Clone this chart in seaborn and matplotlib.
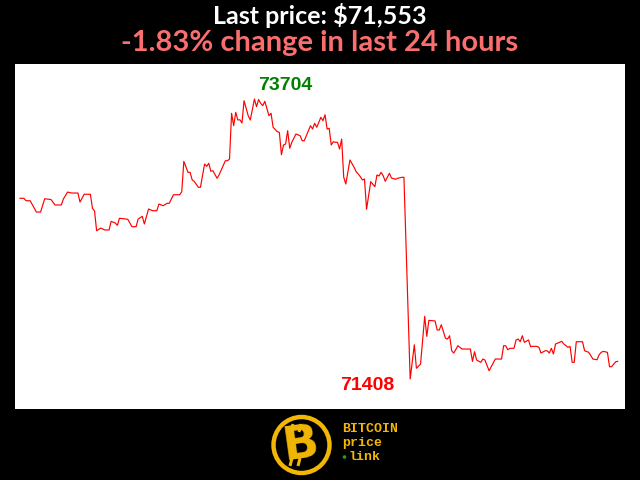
import matplotlib
matplotlib.use("Agg")
import matplotlib.pyplot as plt
import matplotlib.patches as mpatches
import seaborn as sns
import pandas as pd

# ------------------------------------------
# data: minutes since start of the 24h window, BTC price in USD
# ------------------------------------------
minutes = [
    0, 10, 15, 25, 40, 50, 60, 75, 85, 100, 105, 115, 125, 140, 145, 155, 170, 175, 180, 185,
    195, 205, 215, 220, 230, 235, 240, 260, 270, 280, 285, 295, 300, 310, 320, 330, 335, 345, 355, 360,
    370, 385, 390, 395, 405, 410, 415, 420, 430, 435, 445, 450, 455, 460, 465, 475, 480, 495, 500, 505,
    510, 515, 520, 525, 530, 535, 540, 550, 555, 565, 570, 575, 580, 585, 590, 600, 605, 610, 620, 625,
    630, 635, 640, 645, 650, 655, 665, 675, 680, 685, 700, 705, 710, 715, 720, 725, 730, 735, 740, 745,
    750, 755, 760, 765, 770, 775, 780, 785, 790, 795, 805, 810, 815, 820, 825, 830, 835, 845, 855, 860,
    865, 870, 875, 880, 890, 895, 905, 910, 920, 925, 940, 950, 955, 965, 975, 980, 985, 1000, 1005, 1010,
    1015, 1025, 1030, 1035, 1040, 1045, 1055, 1065, 1085, 1090, 1095, 1100, 1110, 1115, 1120, 1130, 1145, 1160, 1165, 1170,
    1175, 1180, 1190, 1195, 1200, 1205, 1210, 1215, 1225, 1230, 1235, 1245, 1250, 1255, 1265, 1270, 1275, 1280, 1285, 1290,
    1305, 1310, 1320, 1325, 1330, 1335, 1340, 1355, 1360, 1370, 1380, 1390, 1395, 1400, 1405, 1415, 1420, 1425, 1435, 1440,
]
prices = [
    72890, 72890, 72870, 72870, 72777, 72777, 72886, 72880, 72835, 72835, 72884, 72941, 72933, 72933, 72859, 72923, 72923, 72808, 72786, 72624,
    72646, 72630, 72630, 72701, 72687, 72668, 72726, 72718, 72657, 72657, 72720, 72742, 72679, 72802, 72788, 72788, 72843, 72829, 72849, 72849,
    72919, 72919, 72944, 73193, 73103, 73103, 73042, 73029, 72980, 72980, 73171, 73152, 73177, 73111, 73116, 73054, 73083, 73198, 73198, 73212,
    73587, 73485, 73595, 73532, 73534, 73507, 73690, 73567, 73532, 73704, 73641, 73700, 73669, 73649, 73685, 73567, 73587, 73472, 73436, 73431,
    73247, 73327, 73335, 73444, 73300, 73349, 73417, 73403, 73362, 73362, 73485, 73458, 73505, 73472, 73513, 73554, 73526, 73575, 73458, 73464,
    73327, 73354, 73349, 73349, 73294, 73376, 73062, 73007, 73103, 73204, 73144, 73108, 73089, 73067, 73040, 73048, 72800, 73026, 72985, 73081,
    73073, 73103, 73075, 73029, 73095, 73056, 73046, 73054, 73062, 73062, 71408, 71689, 71496, 71531, 71922, 71758, 71889, 71884, 71810, 71810,
    71853, 71742, 71736, 71763, 71640, 71621, 71681, 71654, 71654, 71553, 71632, 71564, 71545, 71572, 71564, 71476, 71572, 71572, 71681, 71681,
    71648, 71660, 71660, 71728, 71736, 71714, 71763, 71709, 71728, 71673, 71676, 71676, 71668, 71621, 71640, 71640, 71621, 71660, 71613, 71695,
    71717, 71695, 71668, 71676, 71545, 71545, 71714, 71714, 71640, 71627, 71572, 71566, 71607, 71627, 71635, 71627, 71509, 71509, 71550, 71553,
]

title_line = "Last price: $71,553"
change_line = "-1.83% change in last 24 hours"

df = pd.DataFrame({"minute": minutes, "price": prices})

# ------------------------------------------
# figure
# ------------------------------------------
sns.set_style("white")
plt.rcParams["font.family"] = ["Lato", "DejaVu Sans"]

fig = plt.figure(figsize=(6.4, 4.8), dpi=100, facecolor="black")
ax = fig.add_axes([15 / 640, 71 / 480, 610 / 640, 345 / 480])
ax.set_facecolor("white")

sns.lineplot(data=df, x="minute", y="price", color="#ff0000", linewidth=0.85, ax=ax)

span_x = df["minute"].max() - df["minute"].min()
span_y = df["price"].max() - df["price"].min()
ax.set_xlim(df["minute"].min() - 0.008 * span_x, df["minute"].max() + 0.012 * span_x)
ax.set_ylim(df["price"].min() - 0.107 * span_y, df["price"].max() + 0.125 * span_y)
ax.set_xticks([])
ax.set_yticks([])
ax.set_xlabel("")
ax.set_ylabel("")
for s in ax.spines.values():
    s.set_visible(False)

# high / low labels
hi = df.loc[df["price"].idxmax()]
lo = df.loc[df["price"].idxmin()]
ax.annotate(f"{int(hi['price'])}", (hi["minute"], hi["price"]), xytext=(3, 9.5),
            textcoords="offset points", ha="left", va="center", color="#008000",
            fontsize=14, fontweight="bold", family="Liberation Sans")
ax.annotate(f"{int(lo['price'])}", (lo["minute"], lo["price"]), xytext=(-11.5, -5),
            textcoords="offset points", ha="right", va="center", color="#ff0000",
            fontsize=14, fontweight="bold", family="Liberation Sans")

# titles
fig.text(0.5, 1 - 16 / 480, title_line, ha="center", va="center", color="white",
         fontsize=18, fontweight="bold")
fig.text(0.5, 1 - 43 / 480, change_line, ha="center", va="center", color="#fa6e6e",
         fontsize=21, fontweight="bold")

# logo (pixel coordinates)
lax = fig.add_axes([0, 0, 1, 1])
lax.set_xlim(0, 640)
lax.set_ylim(0, 480)
lax.axis("off")
lax.patch.set_alpha(0)
gold = "#f2b705"
lax.add_patch(mpatches.Circle((301.5, 35), 28, facecolor="black", edgecolor=gold, linewidth=3.2))
lax.plot([293, 291], [56, 48], color=gold, linewidth=2.2, solid_capstyle="butt")
lax.plot([301, 299], [56, 48], color=gold, linewidth=2.2, solid_capstyle="butt")
lax.plot([292, 290], [22, 14], color=gold, linewidth=2.2, solid_capstyle="butt")
lax.plot([300, 298], [22, 14], color=gold, linewidth=2.2, solid_capstyle="butt")
lax.text(301, 35, "B", ha="center", va="center", color=gold, fontsize=34, fontweight="heavy",
         family="DejaVu Sans", rotation=8)
lax.text(342, 51, "BITCOIN", ha="left", va="center", color=gold, fontsize=9.5,
         fontweight="bold", family="Liberation Mono")
lax.text(342, 37, "price", ha="left", va="center", color=gold, fontsize=9.5,
         fontweight="bold", family="Liberation Mono")
lax.text(349, 23, "link", ha="left", va="center", color=gold, fontsize=9.5,
         fontweight="bold", family="Liberation Mono")
lax.add_patch(mpatches.Circle((344.5, 23), 1.8, facecolor="#1fa31f", edgecolor="none"))

fig.savefig("out.png", dpi=100, facecolor="black")
